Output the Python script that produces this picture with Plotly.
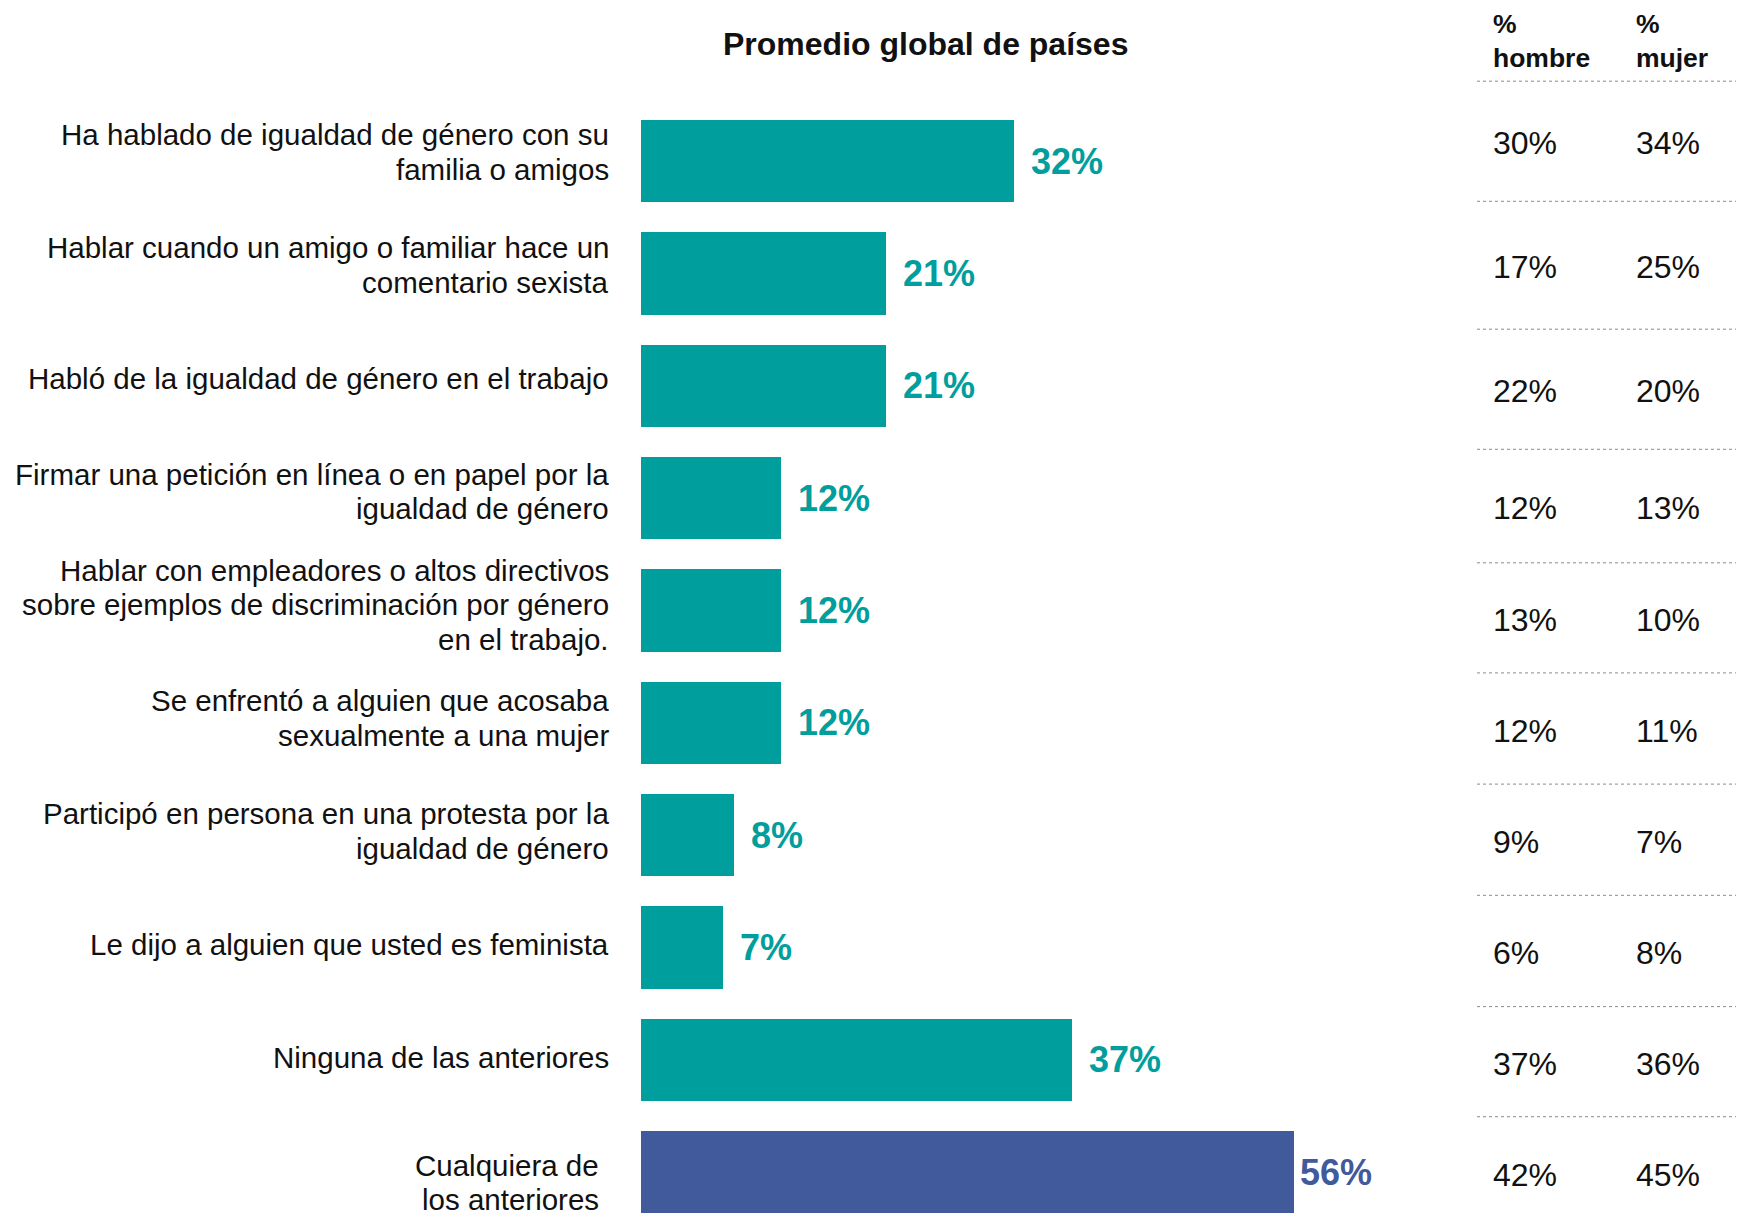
import plotly.graph_objects as go

categories = [
    "Ha hablado de igualdad de género con su<br>familia o amigos",
    "Hablar cuando un amigo o familiar hace un<br>comentario sexista",
    "Habló de la igualdad de género en el trabajo",
    "Firmar una petición en línea o en papel por la<br>igualdad de género",
    "Hablar con empleadores o altos directivos<br>sobre ejemplos de discriminación por género<br>en el trabajo.",
    "Se enfrentó a alguien que acosaba<br>sexualmente a una mujer",
    "Participó en persona en una protesta por la<br>igualdad de género",
    "Le dijo a alguien que usted es feminista",
    "Ninguna de las anteriores",
    "Cualquiera de<br>los anteriores",
]
global_avg = [32, 21, 21, 12, 12, 12, 8, 7, 37, 56]
pct_hombre = [30, 17, 22, 12, 13, 12, 9, 6, 37, 42]
pct_mujer = [34, 25, 20, 13, 10, 11, 7, 8, 36, 45]
title_text = "Promedio global de países"
header_hombre = "%<br>hombre"
header_mujer = "%<br>mujer"

TEAL = "#009E9C"
BLUE = "#415A9B"
INK = "#111111"
FONT = "Arial, 'Liberation Sans', sans-serif"

# page offset (browser body margin) and figure size
OFF = 8
W, H = 1744 - OFF, 1222 - OFF


def X(px):
    return (px - OFF) / W


def Y(py):
    return 1 - (py - OFF) / H


colors = [TEAL] * (len(categories) - 1) + [BLUE]
idx = list(range(len(categories)))

fig = go.Figure()
fig.add_trace(go.Bar(
    y=idx, x=global_avg, orientation="h",
    marker=dict(color=colors, line=dict(width=0)),
    width=0.733, hoverinfo="skip",
))

ann = []
LINE_H = 34.5
n_cat = len(categories)
# category labels, one annotation per line for tighter line spacing
for i, c in enumerate(categories):
    last = i == n_cat - 1
    lines = c.split("<br>")
    n = len(lines)
    center_shift = -10.5 if last else (9.5 - 0.9 * i)
    for j, ln in enumerate(lines):
        ann.append(dict(
            x=0, y=i, xref="x", yref="y", text=ln, showarrow=False,
            xanchor="right", yanchor="middle", align="right",
            xshift=-40 if last else -30,
            yshift=center_shift - (j - (n - 1) / 2) * LINE_H,
            font=dict(family=FONT, size=29.5, color=INK),
        ))
# value labels
for i, v in enumerate(global_avg):
    ann.append(dict(
        x=v, y=i, xref="x", yref="y", text=f"<b>{v}%</b>", showarrow=False,
        xanchor="left", yanchor="middle", xshift=4 if i == n_cat - 1 else 15,
        font=dict(family=FONT, size=36, color=colors[i]),
    ))

# table: dotted separators and values centred between them
sep_px = [81.2, 201.3, 329.2, 449.3, 562.8, 672.9, 784.1, 895.3, 1006.6, 1116.7, 1229.0]
XH_PX, XM_PX = 1491, 1634
for i, (h, m) in enumerate(zip(pct_hombre, pct_mujer)):
    yc = (sep_px[i] + sep_px[i + 1]) / 2 + 2
    for xp, val in [(XH_PX, h), (XM_PX, m)]:
        ann.append(dict(x=X(xp), y=Y(yc), xref="paper", yref="paper", text=f"{val}%",
                        showarrow=False, xanchor="left", yanchor="middle",
                        font=dict(family=FONT, size=32, color=INK)))
# headers
for xp, t in [(XH_PX, header_hombre), (XM_PX, header_mujer)]:
    ann.append(dict(x=X(xp), y=Y(41), xref="paper", yref="paper", text=f"<b>{t}</b>",
                    showarrow=False, xanchor="left", yanchor="middle", align="left",
                    font=dict(family=FONT, size=26.5, color=INK)))
# title
ann.append(dict(x=X(925), y=Y(44), xref="paper", yref="paper",
                text=f"<b>{title_text}</b>", showarrow=False,
                xanchor="center", yanchor="middle",
                font=dict(family=FONT, size=32, color=INK)))

shapes = []
for yp in sep_px[:-1]:
    shapes.append(dict(type="line", xref="paper", yref="paper", x0=X(1477), x1=1.0,
                       y0=Y(yp), y1=Y(yp), line=dict(color="#8a8a8a", width=1, dash="dot")))

PITCH = 112.3
BAR0 = 161.3
ytop = -(BAR0 - OFF) / PITCH
ybot = ytop + H / PITCH
xr = (W - (641 - OFF)) / 11.66

fig.update_layout(
    width=W, height=H,
    margin=dict(l=0, r=0, t=0, b=0),
    paper_bgcolor="white", plot_bgcolor="white",
    showlegend=False,
    bargap=0,
    annotations=ann, shapes=shapes,
    xaxis=dict(domain=[X(641), 1.0], range=[0, xr], visible=False, fixedrange=True),
    yaxis=dict(range=[ybot, ytop], visible=False, fixedrange=True),
)

fig.write_html("out.html")
